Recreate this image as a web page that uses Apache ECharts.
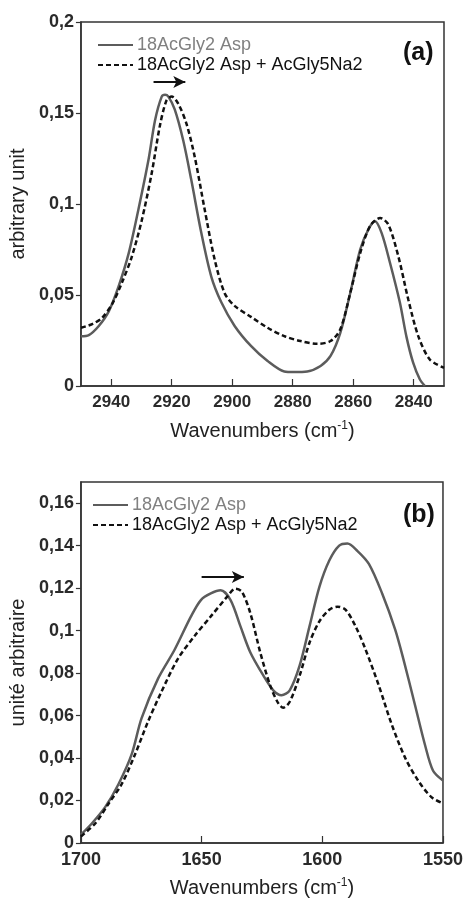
<!DOCTYPE html>
<html>
<head>
<meta charset="utf-8">
<script src="https://cdn.jsdelivr.net/npm/echarts@6/dist/echarts.min.js"></script>
<style>html,body{margin:0;padding:0;background:#fff;}#c{width:466px;height:899px;}</style>
</head>
<body>
<div id="c"></div>
<script>
// Panel (a): C-H stretching region
var aSolid = [[2950,0.0274],[2947.4,0.028],[2944.1,0.033],[2940.8,0.041],[2937.5,0.055],[2934.2,0.073],[2931,0.097],[2927.7,0.124],[2925.5,0.146],[2923.3,0.159],[2922.2,0.16],[2921.1,0.159],[2919,0.152],[2916.2,0.135],[2913.5,0.113],[2910.2,0.084],[2906.9,0.060],[2903.6,0.046],[2899.2,0.033],[2893.8,0.022],[2888.3,0.0137],[2882.8,0.008],[2879.6,0.0077],[2875.2,0.008],[2870.8,0.011],[2867.5,0.0165],[2864.3,0.029],[2861,0.051],[2857.7,0.075],[2855,0.086],[2852.8,0.0905],[2850.6,0.084],[2847.9,0.068],[2844.6,0.046],[2842.4,0.027],[2840.2,0.0128],[2838,0.0037],[2836.3,0]];
var aDashed = [[2950,0.032],[2946.3,0.034],[2943,0.0375],[2939.7,0.045],[2936.4,0.057],[2933.2,0.071],[2929.9,0.091],[2926.6,0.117],[2923.9,0.143],[2921.7,0.157],[2920,0.159],[2917.8,0.155],[2915.1,0.144],[2912.4,0.126],[2909.1,0.097],[2905.8,0.0695],[2902.5,0.051],[2899.2,0.044],[2893.8,0.038],[2888.3,0.032],[2882.8,0.0274],[2877.4,0.0247],[2871.9,0.0232],[2867.5,0.0247],[2864.3,0.031],[2861,0.051],[2857.7,0.073],[2854.4,0.088],[2851.1,0.0923],[2848.4,0.0887],[2845.1,0.0713],[2841.8,0.0475],[2838.5,0.0274],[2834.7,0.0146],[2830,0.010]];
// Panel (b): amide region
var bSolid = [[1700,0.0039],[1695.4,0.0093],[1689.9,0.017],[1684.4,0.0278],[1679,0.0417],[1674.9,0.0587],[1668.1,0.0773],[1661.2,0.091],[1654.4,0.1067],[1650.3,0.1144],[1646.2,0.1175],[1642.1,0.119],[1638,0.1144],[1633.9,0.102],[1629.8,0.0897],[1624.4,0.0788],[1620.3,0.0719],[1616.9,0.0696],[1613.5,0.0719],[1609.4,0.0835],[1605.3,0.102],[1601.2,0.1206],[1597.1,0.133],[1593,0.14],[1589.6,0.141],[1585.5,0.1376],[1580.7,0.1314],[1575.2,0.1175],[1569.8,0.1005],[1566.4,0.0866],[1561.6,0.065],[1557.5,0.0464],[1554.1,0.034],[1550,0.0294]];
var bDashed = [[1700,0.0031],[1694,0.0093],[1688.5,0.0186],[1683.1,0.0278],[1677.6,0.0417],[1672.2,0.0572],[1666.7,0.0711],[1659.9,0.0866],[1653,0.0974],[1646.2,0.1067],[1639.4,0.116],[1636,0.1198],[1633.3,0.1183],[1629.8,0.1082],[1625.7,0.0897],[1621.6,0.0742],[1618.2,0.0657],[1616.2,0.0637],[1613.5,0.0665],[1609.4,0.0788],[1605.3,0.0943],[1601.2,0.1044],[1597.1,0.1098],[1593.7,0.1113],[1590.3,0.1098],[1586.2,0.102],[1582.1,0.0912],[1576.6,0.0742],[1571.2,0.0557],[1565.7,0.0402],[1560.3,0.0294],[1554.8,0.0216],[1550,0.0186]];
var seriesNames = ['18AcGly2 Asp', '18AcGly2 Asp + AcGly5Na2'];
var aXTicks = [2940,2920,2900,2880,2860,2840];
var aYTicks = [0,0.05,0.1,0.15,0.2];
var bXTicks = [1700,1650,1600,1550];
var bYTicks = [0,0.02,0.04,0.06,0.08,0.1,0.12,0.14,0.16];
var aArrow = [[2926,0.167],[2915.5,0.167]];
var bArrow = [[1650,0.1253],[1632.5,0.1253]];

var FONT = 'Liberation Sans, Arial, sans-serif';
var fmtY = function(v){ return String(+v.toFixed(3)).replace('.', ','); };
var fmtX = function(v){ return String(v); };
var nameRich = {
  a: {fontSize: 20, fontFamily: FONT, color: '#222'},
  s: {fontSize: 12, fontFamily: FONT, color: '#222', verticalAlign: 'top', padding: [0,0,10,0]}
};
var xName = '{a|Wavenumbers (cm}{s|-1}{a|)}';

function xAxis(idx, min, max, ticks, fs){
  return {
    type: 'value', gridIndex: idx, min: min, max: max, inverse: true,
    name: xName, nameLocation: 'middle', nameGap: 34,
    nameTextStyle: {rich: nameRich},
    axisLine: {show: true, onZero: false, lineStyle: {color: '#333', width: 1.5}},
    axisTick: {show: true, inside: true, length: 7, customValues: ticks, lineStyle: {color: '#333', width: 1.2}},
    axisLabel: {customValues: ticks, fontSize: fs, fontFamily: FONT, fontWeight: 'bold', color: '#2a2a2a', margin: 8, formatter: fmtX},
    splitLine: {show: false}
  };
}
function yAxis(idx, min, max, ticks, name){
  return {
    type: 'value', gridIndex: idx, min: min, max: max,
    name: name, nameLocation: 'middle', nameGap: 51,
    nameTextStyle: {fontSize: 20, fontFamily: FONT, color: '#222'},
    axisLine: {show: true, onZero: false, lineStyle: {color: '#333', width: 1.5}},
    axisTick: {show: true, inside: false, length: 5, customValues: ticks, lineStyle: {color: '#333', width: 1.2}},
    axisLabel: {customValues: ticks, fontSize: 18, fontFamily: FONT, fontWeight: 'bold', color: '#2a2a2a', margin: 7, formatter: fmtY},
    splitLine: {show: false}
  };
}
function arrowLine(pts){
  return {
    silent: true, symbol: ['none', 'arrow'], symbolSize: [9, 12],
    lineStyle: {type: 'solid', color: '#111', width: 2},
    label: {show: false},
    data: [[{coord: pts[0]}, {coord: pts[1]}]]
  };
}
function lineSeries(name, xi, data, dashed, mark){
  var s = {
    name: name, type: 'line', xAxisIndex: xi, yAxisIndex: xi, data: data,
    symbol: 'none', smooth: 0.3, silent: true,
    lineStyle: dashed ? {color: '#111', width: 2.5, type: [5, 3]} : {color: '#5c5c5c', width: 2.5},
    itemStyle: {color: dashed ? '#111' : '#5c5c5c'}
  };
  if (mark) s.markLine = mark;
  return s;
}
function legend(left, top){
  return {
    left: left, top: top, orient: 'vertical', itemWidth: 35, itemHeight: 14, itemGap: 2, itemStyle: {opacity: 0},
    selectedMode: false,
    textStyle: {fontSize: 18, fontFamily: FONT, padding: [0,0,0,-1]},
    data: [
      {name: seriesNames[0], textStyle: {color: '#808080'}},
      {name: seriesNames[1], textStyle: {color: '#111'}}
    ]
  };
}

var chart = echarts.init(document.getElementById('c'), null, {renderer: 'canvas'});
chart.setOption({
  animation: false,
  backgroundColor: '#fff',
  grid: [
    {left: 79, top: 22, width: 365, height: 364, show: true, borderColor: '#333', borderWidth: 1.5, backgroundColor: 'transparent'},
    {left: 79, top: 482, width: 366, height: 365, show: true, borderColor: '#333', borderWidth: 1.5, backgroundColor: 'transparent'}
  ],
  title: [
    {text: '(a)', left: 398, top: 36, textStyle: {fontSize: 25, fontWeight: 'bold', fontFamily: FONT, color: '#111'}},
    {text: '(b)', left: 398, top: 498, textStyle: {fontSize: 25, fontWeight: 'bold', fontFamily: FONT, color: '#111'}}
  ],
  legend: [legend(92, 31), legend(87, 491)],
  xAxis: [xAxis(0, 2830, 2950, aXTicks, 17), xAxis(1, 1550, 1700, bXTicks, 18)],
  yAxis: [yAxis(0, 0, 0.2, aYTicks, 'arbitrary unit'), yAxis(1, 0, 0.17, bYTicks, 'unité arbitraire')],
  series: [
    lineSeries(seriesNames[0], 0, aSolid, false),
    lineSeries(seriesNames[1], 0, aDashed, true, arrowLine(aArrow)),
    lineSeries(seriesNames[0], 1, bSolid, false),
    lineSeries(seriesNames[1], 1, bDashed, true, arrowLine(bArrow))
  ]
});
</script>
</body>
</html>
